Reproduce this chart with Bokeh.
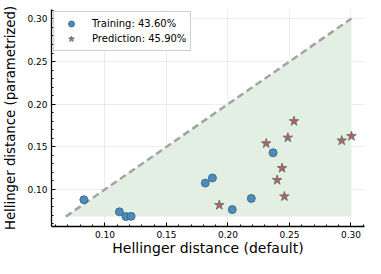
from bokeh.plotting import figure
from bokeh.models import Range1d, Legend, LegendItem, FixedTicker, PrintfTickFormatter
from bokeh.embed import file_html
from bokeh.resources import INLINE

train_x = [0.0829, 0.1118, 0.1171, 0.1213, 0.1816, 0.1874, 0.2035, 0.2190, 0.2367]
train_y = [0.0880, 0.0738, 0.0682, 0.0685, 0.1075, 0.1135, 0.0764, 0.0895, 0.1430]
pred_x = [0.1930, 0.2311, 0.2487, 0.2440, 0.2400, 0.2459, 0.2925, 0.3004, 0.2537]
pred_y = [0.0817, 0.1540, 0.1607, 0.1250, 0.1110, 0.0918, 0.1573, 0.1625, 0.1800]
train_label = "Training: 43.60%"
pred_label = "Prediction: 45.90%"
x_title = "Hellinger distance (default)"
y_title = "Hellinger distance (parametrized)"
x_ticks = [0.10, 0.15, 0.20, 0.25, 0.30]
y_ticks = [0.10, 0.15, 0.20, 0.25, 0.30]

lo = min(train_x + train_y + pred_x + pred_y)
hi = max(train_x + train_y + pred_x + pred_y)

p = figure(width=365, height=258, output_backend="svg", toolbar_location=None,
           x_range=Range1d(0.0566, 0.311), y_range=Range1d(0.0566, 0.311),
           min_border_left=50, min_border_right=1, min_border_top=9, min_border_bottom=30)
p.outline_line_color = None
p.background_fill_color = "white"
p.title.visible = False

p.patch([lo, hi, hi], [lo, hi, lo], fill_color="#e3efe2", line_color=None)
p.line([lo, hi], [lo, hi], line_color="#a3a3a3", line_width=2.5, line_dash="7 4")

r1 = p.scatter(train_x, train_y, marker="circle", size=8, fill_color="#4a8dbd",
               line_color="#3a5f78", line_width=0.8)
r2 = p.scatter(pred_x, pred_y, marker="star", size=10, fill_color="#c4585a",
               line_color="#6b7a6e", line_width=1.0)

p.xaxis[0].ticker = FixedTicker(ticks=x_ticks, minor_ticks=[i / 100 for i in range(6, 32)])
p.yaxis[0].ticker = FixedTicker(ticks=y_ticks, minor_ticks=[i / 100 for i in range(6, 32)])
for ax in (p.xaxis[0], p.yaxis[0]):
    ax.formatter = PrintfTickFormatter(format="%.2f")
    ax.major_tick_in = 4
    ax.major_tick_out = 0
    ax.minor_tick_in = 2
    ax.minor_tick_out = 0
    ax.axis_line_color = "black"
    ax.axis_line_width = 1.3
    ax.major_tick_line_color = "black"
    ax.minor_tick_line_color = "black"
    ax.major_label_text_font = "DejaVu Sans"
    ax.major_label_text_font_size = "9px"
    ax.major_label_text_color = "black"
    ax.major_label_text_line_height = 1.0
    ax.axis_label_text_font = "DejaVu Sans"
    ax.axis_label_text_font_style = "normal"
    ax.axis_label_text_color = "black"
    ax.axis_label_text_line_height = 1.0
    ax.major_label_standoff = 4
p.xaxis[0].axis_label_standoff = -1
p.yaxis[0].axis_label_standoff = 6
p.xaxis[0].axis_label_text_font_size = "14px"
p.yaxis[0].axis_label_text_font_size = "13.3px"
p.xaxis.axis_label = x_title
p.yaxis.axis_label = y_title

p.xgrid.ticker = p.xaxis[0].ticker
p.ygrid.ticker = p.yaxis[0].ticker
p.grid.grid_line_color = "#000000"
p.grid.grid_line_alpha = 0.07

legend = Legend(items=[LegendItem(label=train_label, renderers=[r1]),
                       LegendItem(label=pred_label, renderers=[r2])],
                location="top_left")
legend.label_text_font = "DejaVu Sans"
legend.label_text_font_size = "10px"
legend.label_text_color = "black"
legend.border_line_color = "#a0a0a0"
legend.border_line_width = 1
legend.background_fill_alpha = 1
legend.margin = 2
legend.padding = 4
legend.spacing = 0
legend.glyph_height = 15
legend.glyph_width = 26
legend.label_height = 15
legend.label_standoff = 8
p.add_layout(legend)

open("out.html", "w").write(file_html(p, INLINE))
